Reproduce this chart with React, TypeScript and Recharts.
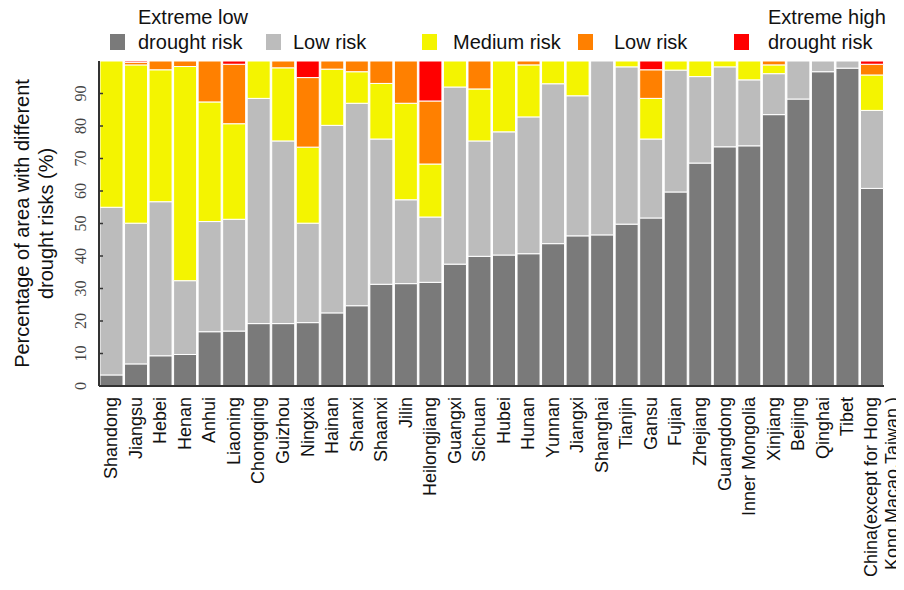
import { Bar, BarChart, Legend, XAxis, YAxis } from "recharts";

const categories = [
  "Shandong", "Jiangsu", "Hebei", "Henan", "Anhui", "Liaoning", "Chongqing", "Guizhou",
  "Ningxia", "Hainan", "Shanxi", "Shaanxi", "Jilin", "Heilongjiang", "Guangxi", "Sichuan",
  "Hubei", "Hunan", "Yunnan", "Jiangxi", "Shanghai", "Tianjin", "Gansu", "Fujian",
  "Zhejiang", "Guangdong", "Inner Mongolia", "Xinjiang", "Beijing", "Qinghai", "Tibet",
  "China(except for Hong\nKong,Macao,Taiwan )",
];

const extremeLow = [
  3.4, 6.8, 9.3, 9.7, 16.7, 16.9, 19.2, 19.2, 19.5, 22.5, 24.7, 31.3, 31.5, 31.9, 37.5, 39.9,
  40.3, 40.7, 43.8, 46.2, 46.5, 49.8, 51.7, 59.7, 68.6, 73.6, 73.9, 83.5, 88.3, 96.7, 97.8, 60.8,
];
const lowRisk = [
  51.6, 43.3, 47.4, 22.7, 33.9, 34.4, 69.3, 56.2, 30.6, 57.7, 62.3, 44.7, 25.8, 20.1, 54.5, 35.5,
  37.9, 42.1, 49.2, 43.1, 53.5, 48.4, 24.3, 37.5, 26.6, 24.6, 20.3, 12.6, 11.7, 3.3, 2.2, 24.0,
];
const mediumRisk = [
  45.0, 48.7, 40.6, 65.9, 36.8, 29.4, 11.5, 22.5, 23.4, 17.3, 9.7, 17.1, 29.7, 16.3, 8.0, 16.0,
  21.8, 16.0, 7.0, 10.7, 0, 1.8, 12.5, 2.8, 4.8, 1.8, 5.8, 2.7, 0, 0, 0, 10.9,
];
const highRisk = [
  0, 0.8, 2.7, 1.7, 12.6, 18.3, 0, 2.1, 21.4, 2.5, 3.3, 6.9, 13.0, 19.4, 0, 8.6,
  0, 1.2, 0, 0, 0, 0, 8.8, 0, 0, 0, 0, 1.2, 0, 0, 0, 3.3,
];
const extremeHigh = [
  0, 0.4, 0, 0, 0, 1.0, 0, 0, 5.1, 0, 0, 0, 0, 12.3, 0, 0,
  0, 0, 0, 0, 0, 0, 2.7, 0, 0, 0, 0, 0, 0, 0, 0, 1.0,
];

const yTicks = [0, 10, 20, 30, 40, 50, 60, 70, 80, 90];

const series = [
  { key: "extremeLow", label: ["Extreme low", "drought risk"], color: "#7a7a7a" },
  { key: "lowRisk", label: ["Low risk"], color: "#bcbcbc" },
  { key: "mediumRisk", label: ["Medium risk"], color: "#f4f400" },
  { key: "highRisk", label: ["Low risk"], color: "#ff8000" },
  { key: "extremeHigh", label: ["Extreme high", "drought risk"], color: "#ff0000" },
];

const data = categories.map((name, i) => ({
  name,
  extremeLow: extremeLow[i],
  lowRisk: lowRisk[i],
  mediumRisk: mediumRisk[i],
  highRisk: highRisk[i],
  extremeHigh: extremeHigh[i],
}));

const sans = "'Liberation Sans', Arial, sans-serif";
const serif = "'Liberation Serif', 'Times New Roman', serif";

// legend item placement (swatch x, text x)
const legendPos = [
  [102, 130],
  [258, 285],
  [414, 445],
  [570, 606],
  [726, 760],
];

function LegendBox() {
  return (
    <svg width={896} height={50} style={{ display: "block", overflow: "visible" }}>
      {series.map((s, i) => {
        const [sx, tx] = legendPos[i];
        const two = s.label.length > 1;
        return (
          <g key={s.key}>
            <rect x={sx} y={26} width={15} height={16} fill={s.color} />
            {s.label.map((line, j) => (
              <text
                key={j}
                x={tx}
                y={two ? 16 + j * 24.5 : 40.5}
                fontFamily={sans}
                fontSize={20}
                fill="#111"
              >
                {line}
              </text>
            ))}
          </g>
        );
      })}
    </svg>
  );
}

function XTick({ x, y, payload }: any) {
  const lines = String(payload.value).split("\n");
  return (
    <g>
      {lines.map((line, i) => {
        const lx = x - (lines.length > 1 ? 1 : 0) + i * 21;
        const ly = y + 11;
        return (
          <text
            key={i}
            x={lx}
            y={ly}
            transform={`rotate(-90, ${lx}, ${ly})`}
            textAnchor="end"
            dominantBaseline="central"
            fontFamily={sans}
            fontSize={18}
            fill="#111"
          >
            {line}
          </text>
        );
      })}
    </g>
  );
}

function YTick({ x, y, payload }: any) {
  const tx = x - 19;
  return (
    <g>
      <line x1={x} x2={x + 4} y1={y} y2={y} stroke="#333" strokeWidth={1.5} />
      <text
        x={tx}
        y={y}
        transform={`rotate(-90, ${tx}, ${y})`}
        textAnchor="middle"
        dominantBaseline="central"
        fontFamily={serif}
        fontSize={16}
        fill="#444"
      >
        {payload.value}
      </text>
    </g>
  );
}

function YTitle({ viewBox }: any) {
  const cy = viewBox.y + viewBox.height / 2;
  const lines = ["Percentage of area with different", "drought risks (%)"];
  return (
    <g>
      {lines.map((line, i) => {
        const lx = 14 + i * 24;
        return (
          <text
            key={i}
            x={lx}
            y={cy}
            transform={`rotate(-90, ${lx}, ${cy})`}
            textAnchor="middle"
            dominantBaseline="central"
            fontFamily={sans}
            fontSize={20}
            fill="#111"
          >
            {line}
          </text>
        );
      })}
    </g>
  );
}

export default function App() {
  return (
    <BarChart
      width={896}
      height={582}
      data={data}
      margin={{ top: 53, right: 20, bottom: 0, left: 0 }}
      barCategoryGap={1}
    >
      <Legend
        layout="horizontal"
        verticalAlign="middle"
        align="center"
        wrapperStyle={{ top: 0, left: 0, width: 896 }}
        content={() => <LegendBox />}
      />
      <XAxis
        dataKey="name"
        interval={0}
        height={204}
        tickSize={0}
        tickMargin={0}
        tickLine={false}
        axisLine={{ stroke: "#333", strokeWidth: 2 }}
        tick={<XTick />}
      />
      <XAxis
        xAxisId="top"
        dataKey="name"
        orientation="top"
        height={0}
        tick={false}
        tickLine={false}
        axisLine={{ stroke: "#333", strokeWidth: 2 }}
      />
      <YAxis
        width={91}
        domain={[0, 100]}
        ticks={yTicks}
        tickSize={0}
        tickMargin={0}
        tickLine={false}
        axisLine={{ stroke: "#333", strokeWidth: 2 }}
        tick={<YTick />}
        label={<YTitle />}
      />
      <YAxis
        yAxisId="right"
        orientation="right"
        width={0}
        domain={[0, 100]}
        tick={false}
        tickLine={false}
        axisLine={{ stroke: "#333", strokeWidth: 2 }}
      />
      {series.map((s) => (
        <Bar
          key={s.key}
          dataKey={s.key}
          stackId="risk"
          fill={s.color}
          stroke="#fff"
          strokeWidth={1}
          isAnimationActive={false}
        />
      ))}
    </BarChart>
  );
}
